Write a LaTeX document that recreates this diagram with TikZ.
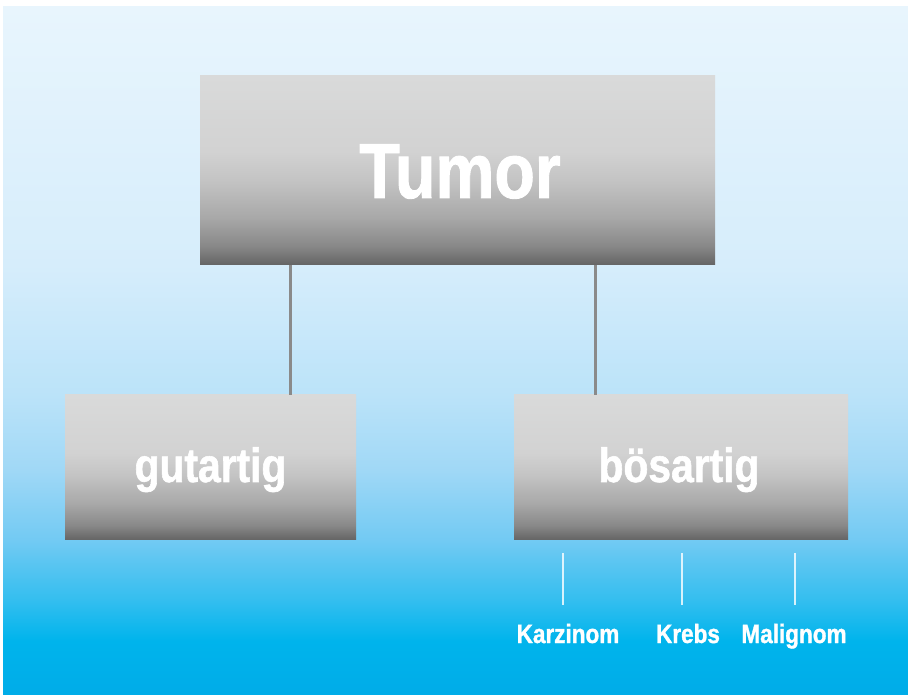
\documentclass[tikz,border=0pt]{standalone}
\usepackage{fontspec}
\newfontfamily\cond[FakeStretch=0.85,FakeBold=1.2]{Liberation Sans}
\definecolor{bgA}{HTML}{00ACE8}
\definecolor{bgB}{HTML}{00B4EC}
\definecolor{bgC}{HTML}{33BEEF}
\definecolor{bgD}{HTML}{72CAF3}
\definecolor{bgE}{HTML}{A0D8F6}
\definecolor{bgF}{HTML}{BBE3F9}
\definecolor{bgG}{HTML}{D6EDFB}
\definecolor{bgH}{HTML}{E8F5FD}
\definecolor{bxA}{HTML}{646464}
\definecolor{bxB}{HTML}{888888}
\definecolor{bxC}{HTML}{A8A8A8}
\definecolor{bxD}{HTML}{C4C4C4}
\definecolor{bxE}{HTML}{D2D2D2}
\definecolor{bxF}{HTML}{D9DADA}
\definecolor{connc}{HTML}{8A8A8A}
\pgfdeclareverticalshading{bgshade}{100bp}{color(0bp)=(bgA); color(25bp)=(bgA); color(28.9bp)=(bgB); color(31.8bp)=(bgC); color(36.2bp)=(bgD); color(41.3bp)=(bgE); color(46.8bp)=(bgF); color(56.2bp)=(bgG); color(75bp)=(bgH); color(100bp)=(bgH)}
\pgfdeclareverticalshading{boxshade}{100bp}{color(0bp)=(bxA); color(25bp)=(bxA); color(30bp)=(bxB); color(37.5bp)=(bxC); color(47.5bp)=(bxD); color(55bp)=(bxE); color(75bp)=(bxF); color(100bp)=(bxF)}
\tikzset{
  box/.style={shading=boxshade, draw=none, inner sep=0pt, rectangle},
  lbl/.style={text=white, inner sep=0pt, anchor=base},
  conn/.style={draw=connc, line width=3pt},
  tick/.style={draw=white, draw opacity=0.8, line width=2.4pt},
}
\begin{document}
\begin{tikzpicture}[x=1pt,y=1pt]
\useasboundingbox (0,0) rectangle (908,694);
\fill[white] (0,0) rectangle (908,694);
\shade[shading=bgshade] (3,0) rectangle (908,687);
% boxes
\node[box, minimum width=515pt, minimum height=189pt] (tumor) at (457.5,523.5) {};
\node[box, minimum width=291pt, minimum height=145pt] (gut) at (210.5,226.5) {};
\node[box, minimum width=334pt, minimum height=145pt] (bos) at (681,226.5) {};
% connectors
\draw[conn] (tumor.south -| 290,0) -- (gut.north -| 290,0);
\draw[conn] (tumor.south -| 595,0) -- (bos.north -| 595,0);
% labels
\node[lbl, font=\cond\bfseries\fontsize{78}{80}\selectfont] (tumortxt) at (460,496) {Tumor};
\node[lbl, font=\cond\bfseries\fontsize{48}{50}\selectfont] (guttxt) at (210.5,212) {gutartig};
\node[lbl, font=\cond\bfseries\fontsize{48}{50}\selectfont] (bostxt) at (679,212) {bösartig};
\node[lbl, font=\cond\bfseries\fontsize{26.5}{28}\selectfont] (karz) at (568,51) {Karzinom};
\node[lbl, font=\cond\bfseries\fontsize{26.5}{28}\selectfont] (krebs) at (688,51) {Krebs};
\node[lbl, font=\cond\bfseries\fontsize{26.5}{28}\selectfont] (malig) at (794,51) {Malignom};
% ticks
\coordinate (k1) at (563,141);
\coordinate (k2) at (682,141);
\coordinate (k3) at (795,141);
\draw[tick] (k1) -- (k1 |- 0,89);
\draw[tick] (k2) -- (k2 |- 0,89);
\draw[tick] (k3) -- (k3 |- 0,89);
\end{tikzpicture}
\end{document}
